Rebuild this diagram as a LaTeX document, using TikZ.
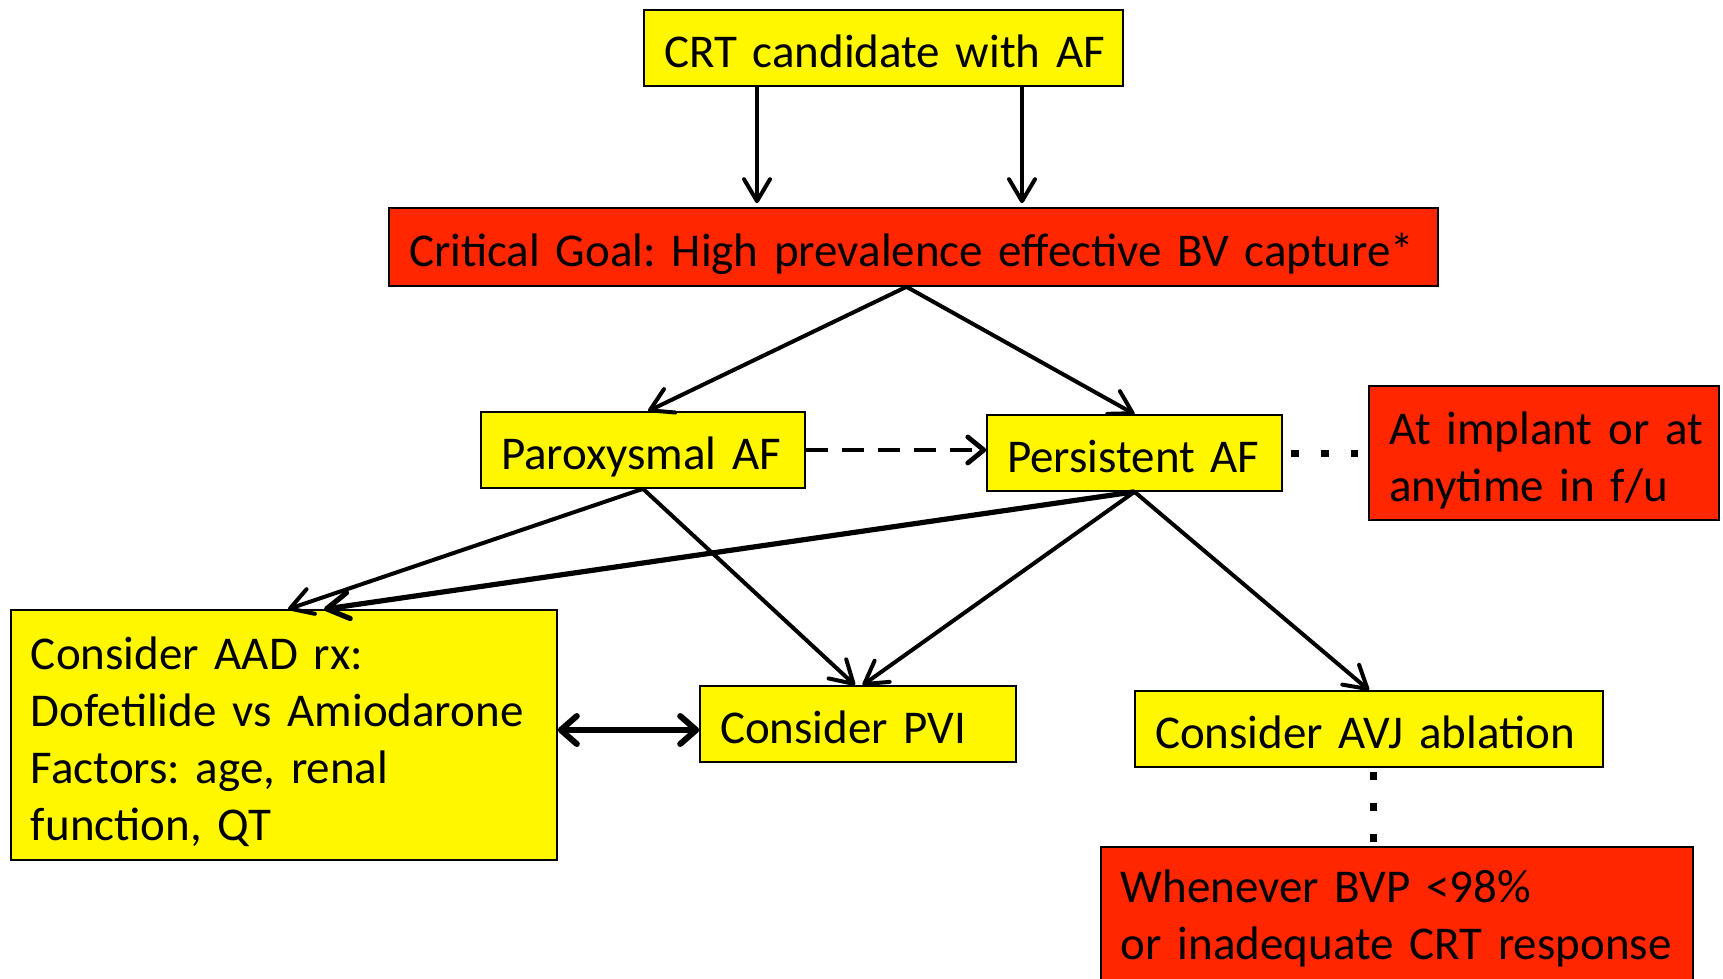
\documentclass[tikz,border=0pt]{standalone}
\usepackage{fontspec}
\setmainfont{Carlito}
\usetikzlibrary{arrows.meta}
\definecolor{boxyellow}{RGB}{255,247,0}
\definecolor{boxred}{RGB}{255,38,0}
\frenchspacing
\begin{document}
\begin{tikzpicture}[x=0.5pt,y=-0.5pt,
  box/.style={draw=black, line width=0.8pt, inner xsep=10pt, inner ysep=0pt, align=left,
    font=\fontsize{23.5}{28.5}\selectfont\frenchspacing, minimum height=38pt},
  one/.style={text height=21.5pt, text depth=2pt},
  ybox/.style={box, fill=boxyellow},
  rbox/.style={box, fill=boxred},
  arr/.style={line width=2pt, -{Straight Barb[length=11pt,width=13pt,round]}},
  thickarr/.style={line width=2.6pt, -{Straight Barb[length=11pt,width=13pt,round]}},
  dsh/.style={line width=2.4pt, dash pattern=on 11pt off 7pt, -{Straight Barb[length=8pt,width=13pt,round]}},
  dotline/.style={line width=3.5pt, dash pattern=on 4pt off 11pt, shorten <=4pt, shorten >=5pt},
  vdotline/.style={line width=3.5pt, dash pattern=on 4pt off 11.5pt, shorten <=2pt, shorten >=2pt},
  dbl/.style={line width=3pt, {Straight Barb[length=8pt,width=14pt,round]}-{Straight Barb[length=8pt,width=14pt,round]}}]
\path[use as bounding box] (0,0) rectangle (1723,979);
\node[ybox, one, text width=219.5pt] (crt) at (883.5,48) {\mbox{CRT candidate with AF}};
\node[rbox, one, text width=504.5pt, minimum height=39pt] (goal) at (913.5,247) {\mbox{Critical Goal: High prevalence effective BV capture*}};
\node[ybox, one, text width=142pt] (parox) at (643,450) {\mbox{Paroxysmal AF}};
\node[ybox, one, text width=127.5pt] (pers) at (1134.5,453) {\mbox{Persistent AF}};
\node[rbox, text width=155pt, minimum height=67pt] (impl) at (1544,453) {\rule{0pt}{23.5pt}\mbox{At implant or at}\\ \mbox{anytime in f/u}};
\node[ybox, text width=253pt, minimum height=125pt] (aad) at (284,735) {\rule{0pt}{23pt}\mbox{Consider AAD rx:}\\ \mbox{Dofetilide vs Amiodarone}\\ \mbox{Factors: age, renal}\\ \mbox{function, QT}};
\node[ybox, one, text width=138pt] (pvi) at (858,724) {\mbox{Consider PVI}};
\node[ybox, one, text width=214pt] (avj) at (1369,729) {\mbox{Consider AVJ ablation}};
\node[rbox, text width=276pt, minimum height=72pt, anchor=north west] (bvp) at (1100,846) {\mbox{Whenever BVP <98\%}\\ \mbox{or inadequate CRT response}};
\draw[arr] ([xshift=-63.25pt]crt.south) -- ([xshift=-78.25pt,yshift=2pt]goal.north);
\draw[arr] ([xshift=69.25pt]crt.south) -- ([xshift=54.25pt,yshift=2pt]goal.north);
\draw[arr] ([xshift=-3.5pt]goal.south) -- ([xshift=2.5pt]parox.north);
\draw[arr] ([xshift=-3.5pt]goal.south) -- (pers.north);
\draw[dsh] (parox.east) -- (parox.east -| pers.west);
\draw[dotline] (pers.east) -- (impl.west);
\draw[arr] (parox.south) -- ([xshift=2pt]aad.north);
\draw[thickarr] (pers.south) -- ([xshift=20pt]aad.north);
\draw[arr] (parox.south) -- ([xshift=-1.5pt]pvi.north);
\draw[arr] (pers.south) -- ([xshift=2.3pt]pvi.north);
\draw[arr] (pers.south) -- (avj.north);
\coordinate (mid) at (0,730);
\draw[dbl] (aad.east |- mid) -- (pvi.west |- mid);
\draw[vdotline] ([xshift=2.3pt]avj.south) -- ([xshift=2.3pt]avj.south |- bvp.north);
\end{tikzpicture}
\end{document}
